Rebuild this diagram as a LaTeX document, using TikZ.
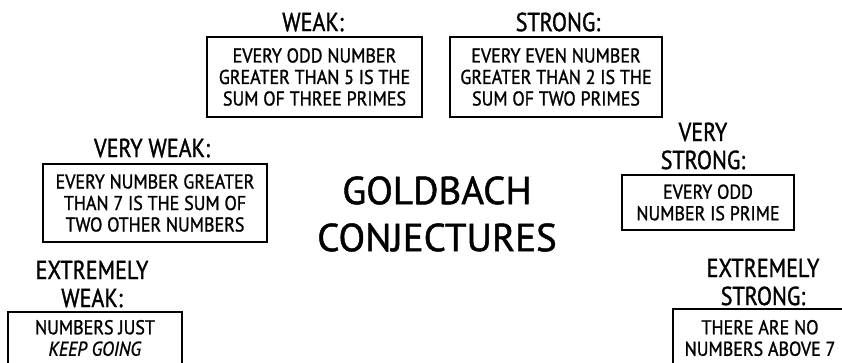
\documentclass[tikz,border=0pt]{standalone}
\usepackage{fontspec}
\setmainfont{PT Sans}
\newfontfamily\handfont[FakeStretch=0.85,FakeBold=1.2]{PT Sans}
\newfontfamily\boxfont[FakeStretch=0.9,FakeBold=1.2]{PT Sans}
\newfontfamily\titlefont[FakeBold=1.2]{PT Sans}
\begin{document}
\begin{tikzpicture}[x=1pt,y=-1pt,
  boxnode/.style={draw=black,line width=1.6pt,inner sep=0pt,align=center,
    font=\boxfont\fontsize{20}{21.5}\selectfont},
  lblnode/.style={align=center,inner sep=0pt,font=\handfont\fontsize{26}{28}\selectfont},
  titlenode/.style={align=center,inner sep=0pt,font=\titlefont\fontsize{39}{47}\selectfont},
  txtnode/.style={align=center,inner sep=0pt,font=\boxfont\fontsize{20}{21.5}\selectfont}]
\useasboundingbox (0,0) rectangle (842,363);
\clip (0,0) rectangle (842,363);
% title
\node[titlenode] (title) at (437,214) {GOLDBACH\\CONJECTURES};
% weak
\node[lblnode] (weaklbl) at (313,22) {WEAK:};
\node[boxnode,minimum width=215pt,minimum height=80pt] (weakbox) at (314.5,77)
  {EVERY ODD NUMBER\\GREATER THAN 5 IS THE\\SUM OF THREE PRIMES};
% strong
\node[lblnode] (stronglbl) at (558,22) {STRONG:};
\node[boxnode,minimum width=212pt,minimum height=80pt] (strongbox) at (556,77)
  {EVERY EVEN NUMBER\\GREATER THAN 2 IS THE\\SUM OF TWO PRIMES};
% very weak
\node[lblnode] (vweaklbl) at (152,148) {VERY WEAK:};
\node[boxnode,minimum width=224pt,minimum height=78pt] (vweakbox) at (155,203)
  {EVERY NUMBER GREATER\\THAN 7 IS THE SUM OF\\TWO OTHER NUMBERS};
% very strong
\node[lblnode] (vstronglbl) at (703,146) {VERY\\STRONG:};
\node[boxnode,minimum width=172pt,minimum height=55pt] (vstrongbox) at (708,202.5)
  {EVERY ODD\\NUMBER IS PRIME};
% extremely weak
\node[lblnode] (eweaklbl) at (92,284) {EXTREMELY\\WEAK:};
\node[draw=black,line width=1.6pt,inner sep=0pt,minimum width=174pt,minimum height=80pt] (eweakbox) at (95,352) {};
\node[txtnode] (eweaktxt) at (95,338) {NUMBERS JUST\\\textit{KEEP GOING}};
% extremely strong
\node[lblnode] (estronglbl) at (763,282) {EXTREMELY\\STRONG:};
\node[draw=black,line width=1.6pt,inner sep=0pt,minimum width=190pt,minimum height=80pt] (estrongbox) at (768,349) {};
\node[txtnode] (estrongtxt) at (760,338) {THERE ARE NO\\NUMBERS ABOVE 7};
\end{tikzpicture}
\end{document}
